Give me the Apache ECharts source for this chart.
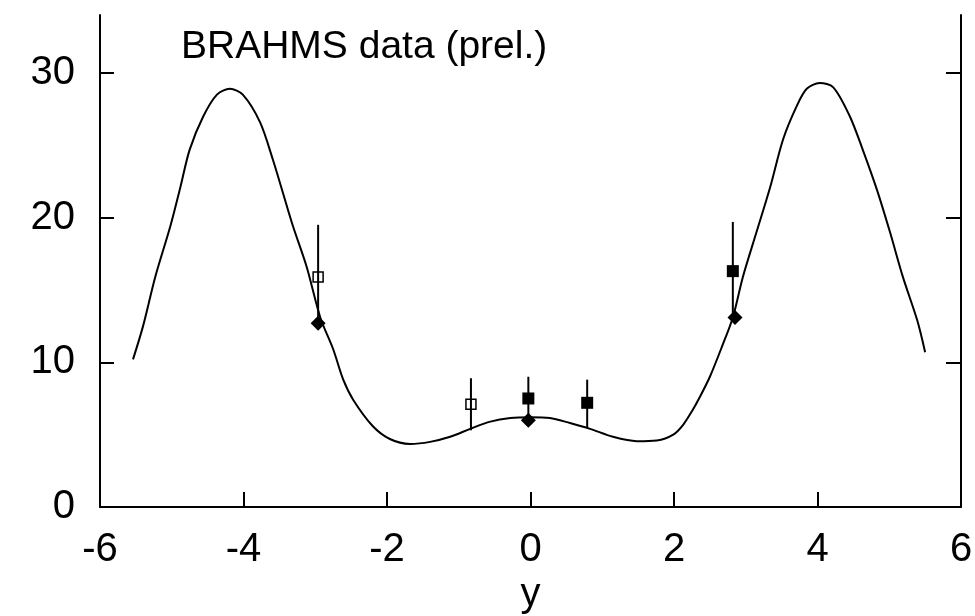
<!DOCTYPE html>
<html>
<head>
<meta charset="utf-8">
<script src="https://cdn.jsdelivr.net/npm/echarts@6/dist/echarts.min.js"></script>
<style>html,body{margin:0;padding:0;background:#fff}#c{width:975px;height:616px}</style>
</head>
<body>
<div id="c"></div>
<script>
// Curve (model) points [rapidity, value]
var curveX = [-5.54,-5.40,-5.23,-5.02,-4.88,-4.75,-4.56,-4.37,-4.19,-4.01,-3.77,-3.59,-3.45,-3.31,-3.12,-2.93,-2.75,-2.61,-2.47,-2.20,-1.96,-1.68,-1.40,-1.12,-0.84,-0.56,-0.28,0.00,0.27,0.55,0.83,1.15,1.48,1.76,1.99,2.13,2.26,2.36,2.50,2.67,2.82,2.96,3.15,3.34,3.52,3.71,3.85,4.03,4.22,4.45,4.63,4.83,5.01,5.19,5.39,5.50];
var curveY = [10.2,12.5,15.9,19.4,22.1,24.7,27.0,28.5,28.9,28.5,26.6,24.0,21.7,19.4,16.6,13.1,10.9,8.8,7.4,5.6,4.7,4.36,4.5,4.85,5.4,5.9,6.15,6.2,6.15,5.8,5.4,4.85,4.55,4.6,5.0,5.7,6.7,7.6,9.0,11.1,13.1,15.9,19.0,22.1,25.4,27.7,28.9,29.3,29.0,27.0,24.7,21.9,19.0,15.9,12.9,10.7];

// Open squares with error bars
var openSqX  = [-2.96, -0.83];
var openSqY  = [15.9, 7.1];
var openSqLo = [12.8, 5.3];
var openSqHi = [19.5, 8.9];

// Filled squares with error bars
var fillSqX  = [-0.03, 0.79, 2.82];
var fillSqY  = [7.5, 7.2, 16.3];
var fillSqLo = [6.0, 5.5, 13.1];
var fillSqHi = [9.0, 8.8, 19.7];

// Filled diamonds
var diamX = [-2.96, -0.03, 2.85];
var diamY = [12.7, 6.0, 13.1];

var xTickLabels = [-6, -4, -2, 0, 2, 4, 6];
var yTickLabels = [0, 10, 20, 30];
var titleText = 'BRAHMS data (prel.)';
var xName = 'y';

function zip(a, b) { return a.map(function (v, i) { return [v, b[i]]; }); }
function zip3(a, b, c) { return a.map(function (v, i) { return [v, b[i], c[i]]; }); }

var errData = zip3(openSqX, openSqLo, openSqHi).concat(zip3(fillSqX, fillSqLo, fillSqHi));

var FONT = 'Liberation Sans, Arial, Helvetica, sans-serif';

var chart = echarts.init(document.getElementById('c'), null, {renderer: 'canvas'});
chart.setOption({
  animation: false,
  backgroundColor: '#fff',
  grid: {left: 100, right: 14, top: 15, bottom: 109, outerBoundsMode: 'none'},
  graphic: [{
    type: 'text', left: 181, top: 28,
    style: {text: titleText, font: '39px ' + FONT, fill: '#000'}
  }],
  xAxis: {
    type: 'value', min: -6, max: 6, interval: 2,
    name: xName, nameLocation: 'middle', nameGap: 62,
    nameTextStyle: {fontSize: 40, fontFamily: FONT, color: '#000'},
    axisLine: {show: true, onZero: false, lineStyle: {color: '#000', width: 2}},
    axisTick: {show: true, inside: true, length: 15, lineStyle: {color: '#000', width: 2}, customValues: [-4, -2, 0, 2, 4]},
    axisLabel: {fontSize: 40, fontFamily: FONT, color: '#000', margin: 23, customValues: xTickLabels},
    splitLine: {show: false}
  },
  yAxis: [{
    type: 'value', min: 0, max: 34, interval: 10, position: 'left',
    axisLine: {show: true, onZero: false, lineStyle: {color: '#000', width: 2}},
    axisTick: {show: true, inside: true, length: 14, lineStyle: {color: '#000', width: 2}, customValues: [10, 20, 30]},
    axisLabel: {fontSize: 40, fontFamily: FONT, color: '#000', margin: 25, customValues: yTickLabels},
    splitLine: {show: false}
  }, {
    type: 'value', min: 0, max: 34, interval: 10, position: 'right',
    axisLine: {show: true, onZero: false, lineStyle: {color: '#000', width: 2}},
    axisTick: {show: true, inside: true, length: 15, lineStyle: {color: '#000', width: 2}, customValues: [10, 20, 30]},
    axisLabel: {show: false},
    splitLine: {show: false}
  }],
  series: [
    {
      type: 'line', data: zip(curveX, curveY), smooth: 0.3, showSymbol: false, symbol: 'none',
      lineStyle: {color: '#000', width: 2}, z: 1
    },
    {
      type: 'scatter', data: zip(openSqX, openSqY), symbol: 'rect', symbolSize: 10,
      itemStyle: {color: '#fff', borderColor: '#000', borderWidth: 1.5, opacity: 1}, z: 2
    },
    {
      type: 'custom', data: errData, z: 3,
      renderItem: function (params, api) {
        var lo = api.coord([api.value(0), api.value(1)]);
        var hi = api.coord([api.value(0), api.value(2)]);
        return {type: 'line', shape: {x1: lo[0], y1: lo[1], x2: hi[0], y2: hi[1]},
                style: {stroke: '#000', lineWidth: 2}};
      }
    },
    {
      type: 'scatter', data: zip(fillSqX, fillSqY), symbol: 'rect', symbolSize: 12,
      itemStyle: {color: '#000', opacity: 1}, z: 4
    },
    {
      type: 'scatter', data: zip(diamX, diamY), symbol: 'diamond', symbolSize: 15,
      itemStyle: {color: '#000', opacity: 1}, z: 4
    }
  ]
});
</script>
</body>
</html>
